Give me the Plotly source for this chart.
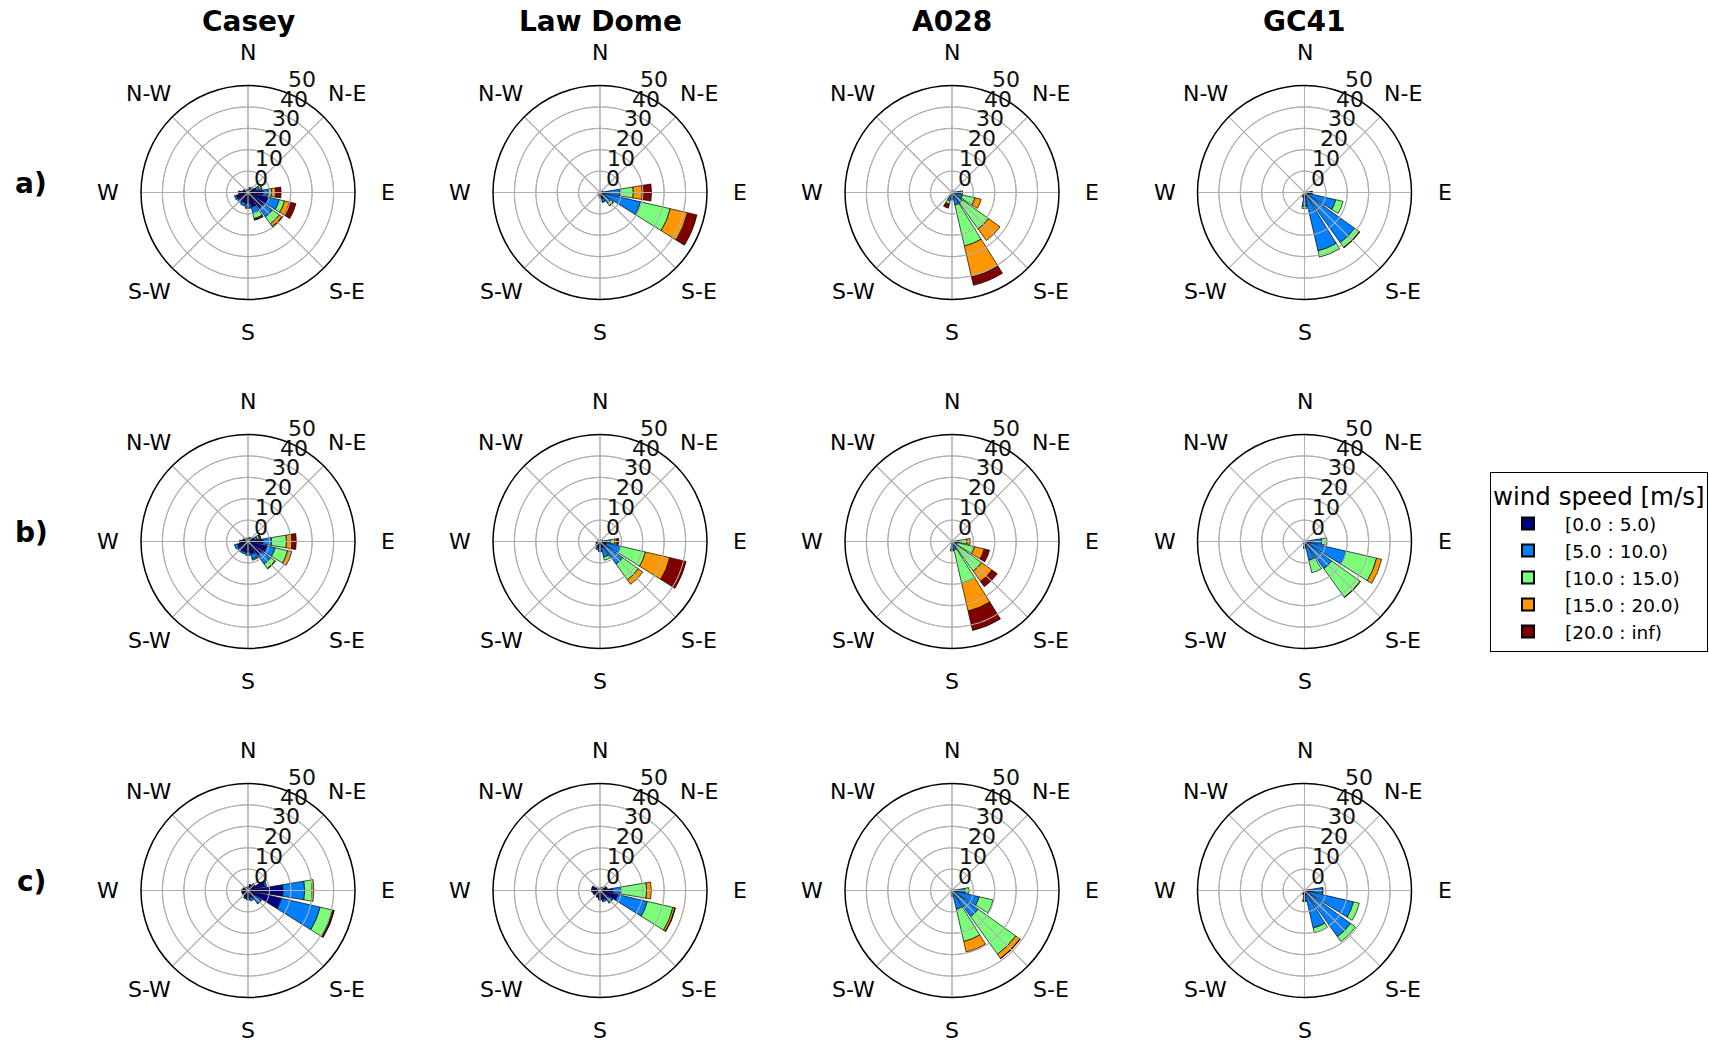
import math
import plotly.graph_objects as go

# ---------------- data ----------------
stations = ["Casey", "Law Dome", "A028", "GC41"]
periods = ["a)", "b)", "c)"]
directions = ["N", "NNE", "NE", "ENE", "E", "ESE", "SE", "SSE",
              "S", "SSW", "SW", "WSW", "W", "WNW", "NW", "NNW"]
direction_deg = [0, 22.5, 45, 67.5, 90, 112.5, 135, 157.5,
                 180, 202.5, 225, 247.5, 270, 292.5, 315, 337.5]
speed_bins = ["[0.0 : 5.0)", "[5.0 : 10.0)", "[10.0 : 15.0)", "[15.0 : 20.0)", "[20.0 : inf)"]
compass_labels = ["N", "N-E", "E", "S-E", "S", "S-W", "W", "N-W"]
compass_deg = [0, 45, 90, 135, 180, 225, 270, 315]
radial_labels = ["0", "10", "20", "30", "40", "50"]
radial_grid = [10, 20, 30, 40]

# frequency (%) per speed bin (rows) and direction (columns, N..NNW)
casey_a = [
    [1.5, 2, 2.5, 4, 7, 10, 9, 7, 5, 5, 5, 5.5, 4, 2.5, 2, 1.5],
    [0, 0.5, 0.5, 1.5, 2.5, 5, 5, 3, 2, 1.5, 1, 1, 0.5, 0, 0, 0],
    [0, 0, 0, 1, 1.5, 2.5, 4, 2.5, 0.5, 0, 0, 0, 0, 0, 0, 0],
    [0, 0, 0, 0.3, 2, 2.5, 1.5, 0.5, 0, 0, 0, 0, 0, 0, 0, 0],
    [0, 0, 0, 0, 2.5, 3, 0.5, 0.3, 0, 0, 0, 0, 0, 0, 0, 0],
]
lawdome_a = [
    [0.5, 0.8, 0.8, 1, 2, 2, 1.5, 3, 2, 1.5, 1, 1, 0.8, 0.5, 0.5, 0.5],
    [0, 0, 0, 0.3, 7.3, 17.4, 4.5, 1.5, 0.5, 0, 0, 0, 0, 0, 0, 0],
    [0, 0, 0, 0, 6.3, 14.3, 1.5, 0.3, 0, 0, 0, 0, 0, 0, 0, 0],
    [0, 0, 0, 0, 4.2, 8.3, 0.3, 0, 0, 0, 0, 0, 0, 0, 0, 0],
    [0, 0, 0, 0, 4.3, 4.5, 0, 0, 0, 0, 0, 0, 0, 0, 0, 0],
]
a028_a = [
    [0.3, 0.5, 0.5, 0.5, 1, 1, 1, 1, 1, 1, 0.5, 0.5, 0.3, 0.3, 0.3, 0.3],
    [0, 0.5, 0, 0.5, 3, 4, 5, 5, 2, 3, 0, 0, 0, 0, 0, 0],
    [0, 0, 0, 0, 1, 6, 15, 19.7, 0.5, 1.5, 0, 0, 0, 0, 0, 0],
    [0, 0, 0, 0, 0, 3, 6.6, 14.8, 0, 0.5, 0, 0, 0, 0, 0, 0],
    [0, 0, 0, 0, 0, 0, 0, 4, 0, 1.5, 0, 0, 0, 0, 0, 0],
]
gc41_a = [
    [0.3, 0.5, 0.5, 0.8, 1.5, 2, 2, 2, 2, 1, 0.5, 0.5, 0.5, 0.3, 0.3, 0.3],
    [0, 0, 0, 0, 2, 13, 26.8, 26, 4.5, 1, 0, 0, 0, 0, 0, 0],
    [0, 0, 0, 0, 0.2, 3.5, 2.7, 3, 1, 0.3, 0, 0, 0, 0, 0, 0],
    [0, 0, 0, 0, 0, 0, 0.3, 0, 0, 0, 0, 0, 0, 0, 0, 0],
    [0, 0, 0, 0, 0, 0, 0, 0, 0, 0, 0, 0, 0, 0, 0, 0],
]
casey_b = [
    [1.5, 2, 2.5, 3, 7, 9, 8, 6, 5, 5, 5, 5, 3.5, 2.5, 2, 1.5],
    [0, 0, 0, 1.5, 4, 4, 5, 2.5, 1.5, 1, 1, 1.5, 0.5, 0, 0, 0],
    [0, 0, 0, 1, 7, 6, 2.5, 0.5, 0, 0, 0, 0, 0, 0, 0, 0],
    [0, 0, 0, 0.5, 2.2, 2, 0.3, 0, 0, 0, 0, 0, 0, 0, 0, 0],
    [0, 0, 0, 0.2, 2.4, 0, 0, 0, 0, 0, 0, 0, 0, 0, 0, 0],
]
lawdome_b = [
    [0.5, 0.8, 0.8, 1, 2, 3, 4, 3, 2, 3, 2.5, 2, 1.5, 1, 0.5, 0.5],
    [0, 0, 0, 0.3, 3, 7, 9, 4.5, 2.5, 1, 0, 0, 0, 0, 0, 0],
    [0, 0, 0, 0, 2, 11.8, 9, 1.5, 0.3, 0, 0, 0, 0, 0, 0, 0],
    [0, 0, 0, 0, 1, 11.7, 2.6, 0, 0, 0, 0, 0, 0, 0, 0, 0],
    [0, 0, 0, 0, 0.8, 7.8, 0, 0, 0, 0, 0, 0, 0, 0, 0, 0],
]
a028_b = [
    [0.3, 0.3, 0.3, 0.5, 1, 1, 1, 1, 1, 0.5, 0.3, 0.3, 0.3, 0.3, 0.3, 0.3],
    [0, 0, 0, 0.3, 2, 1.5, 2, 3, 3, 0, 0, 0, 0, 0, 0, 0],
    [0, 0, 0, 0, 4, 8.3, 14, 16, 0.5, 0, 0, 0, 0, 0, 0, 0],
    [0, 0, 0, 0, 1.5, 4.7, 6, 13.4, 0, 0, 0, 0, 0, 0, 0, 0],
    [0, 0, 0, 0, 0, 2.5, 3, 9.3, 0, 0, 0, 0, 0, 0, 0, 0],
]
gc41_b = [
    [0.3, 0.5, 0.5, 0.8, 2, 2, 2, 2, 1.5, 1, 0.5, 0.5, 0.5, 0.3, 0.3, 0.3],
    [0, 0, 0, 0, 6, 18, 13.6, 7, 1.5, 0, 0, 0, 0, 0, 0, 0],
    [0, 0, 0, 0, 2.5, 14.6, 16.4, 6, 0.3, 0, 0, 0, 0, 0, 0, 0],
    [0, 0, 0, 0, 0, 2.4, 0.2, 0, 0, 0, 0, 0, 0, 0, 0, 0],
    [0, 0, 0, 0, 0, 0, 0, 0, 0, 0, 0, 0, 0, 0, 0, 0],
]
casey_c = [
    [2, 3, 4, 8, 16.4, 16, 4, 3.5, 3.5, 3.5, 3, 3, 3, 2.5, 2, 1.5],
    [0, 0, 0, 1, 10.1, 18.6, 3.5, 1.5, 1, 0.5, 0, 0, 0, 0, 0, 0],
    [0, 0, 0, 0, 3.5, 6, 0.3, 0, 0, 0, 0, 0, 0, 0, 0, 0],
    [0, 0, 0, 0, 0.8, 0.5, 0, 0, 0, 0, 0, 0, 0, 0, 0, 0],
    [0, 0, 0, 0, 0, 0.3, 0, 0, 0, 0, 0, 0, 0, 0, 0, 0],
]
lawdome_c = [
    [1, 1.5, 2, 3, 6, 8.5, 5, 4.5, 4, 3.5, 3, 3.5, 4, 4, 2, 1],
    [0, 0, 0, 0.5, 4, 14.2, 2, 1, 0.5, 0, 0, 0, 0, 0, 0, 0],
    [0, 0, 0, 0, 11.8, 12.3, 0.3, 0, 0, 0, 0, 0, 0, 0, 0, 0],
    [0, 0, 0, 0, 2.2, 1, 0, 0, 0, 0, 0, 0, 0, 0, 0, 0],
    [0, 0, 0, 0, 0, 0.2, 0, 0, 0, 0, 0, 0, 0, 0, 0, 0],
]
a028_c = [
    [0.3, 0.3, 0.5, 0.5, 1, 1, 1, 1, 1.5, 0.8, 0.5, 0.3, 0.3, 0.3, 0.3, 0.3],
    [0, 0, 0, 0.3, 5, 12, 14, 8, 1, 0, 0, 0, 0, 0, 0, 0],
    [0, 0, 0, 0, 2, 6.7, 21.6, 15.5, 0.2, 0, 0, 0, 0, 0, 0, 0],
    [0, 0, 0, 0, 0, 0, 2.4, 5, 0, 0, 0, 0, 0, 0, 0, 0],
    [0, 0, 0, 0, 0, 0, 0.2, 0, 0, 0, 0, 0, 0, 0, 0, 0],
]
gc41_c = [
    [0.3, 0.5, 0.5, 0.8, 2, 2, 2, 2, 2, 1.5, 0.5, 0.5, 0.3, 0.3, 0.3, 0.3],
    [0, 0, 0, 0, 6.5, 21.5, 24.5, 16, 3, 0.5, 0, 0, 0, 0, 0, 0],
    [0, 0, 0, 0, 0.2, 2.8, 2.8, 2.3, 0.2, 0, 0, 0, 0, 0, 0, 0],
    [0, 0, 0, 0, 0, 0, 0, 0, 0, 0, 0, 0, 0, 0, 0, 0],
    [0, 0, 0, 0, 0, 0, 0, 0, 0, 0, 0, 0, 0, 0, 0, 0],
]

grid_data = [
    [casey_a, lawdome_a, a028_a, gc41_a],
    [casey_b, lawdome_b, a028_b, gc41_b],
    [casey_c, lawdome_c, a028_c, gc41_c],
]

# ---------------- styling / layout ----------------
W, H = 1709, 1042
bin_colors = ["#000080", "#0080ff", "#7bff7b", "#ff9700", "#800000"]
GRID = "#b0b0b0"
FONT = "DejaVu Sans"
col_cx = [248, 600, 952, 1304.5]
row_cy = [192.5, 541.5, 890.5]
R = 107.0
RMAX = 50
bar_width = 19

# grid overlay geometry (grid drawn above the bars, as in the reference)
ring_theta = [t * 2.0 for t in range(181)]


def paper(px, py):
    return px / W, 1 - py / H


fig = go.Figure()
annotations = []
layout_polars = {}

k = 0
for i, period in enumerate(periods):
    for j, station in enumerate(stations):
        k += 1
        pname = "polar" if k == 1 else f"polar{k}"
        cx, cy = col_cx[j], row_cy[i]
        x0, y1 = paper(cx - R, cy - R)
        x1, y0 = paper(cx + R, cy + R)
        layout_polars[pname] = dict(
            domain=dict(x=[x0, x1], y=[y0, y1]),
            bgcolor="white",
            barmode="stack",
            angularaxis=dict(
                rotation=90, direction="clockwise",
                tickmode="array", tickvals=compass_deg,
                showticklabels=False, ticks="",
                showgrid=True, gridcolor=GRID, gridwidth=1.1,
                showline=True, linecolor="black", linewidth=1.5,
                layer="above traces",
            ),
            radialaxis=dict(
                range=[0, RMAX], tickmode="array", tickvals=radial_grid,
                showticklabels=False, ticks="", showline=False,
                showgrid=True, gridcolor=GRID, gridwidth=1.1,
            ),
        )
        values = grid_data[i][j]
        for b, label in enumerate(speed_bins):
            r = [v if v > 0 else None for v in values[b]]
            fig.add_trace(go.Barpolar(
                r=r, theta=direction_deg, width=bar_width,
                name=label, legendgroup=label, showlegend=(k == 1),
                marker=dict(color=bin_colors[b], line=dict(color="black", width=0.7)),
                subplot=pname,
            ))
        # grid overlay: rings and spokes on top of the bars
        rr, tt = [], []
        for g in radial_grid:
            rr += [g] * len(ring_theta) + [None]
            tt += ring_theta + [None]
        for d in compass_deg:
            rr += [0, RMAX, None]
            tt += [d, d, None]
        fig.add_trace(go.Scatterpolar(
            r=rr, theta=tt, mode="lines", line=dict(color=GRID, width=1.1),
            hoverinfo="skip", showlegend=False, subplot=pname, connectgaps=False,
        ))
        # compass labels
        for lab, deg in zip(compass_labels, compass_deg):
            a = math.radians(deg)
            px = cx + 140 * math.sin(a)
            py = cy - 140 * math.cos(a)
            xp, yp = paper(px, py)
            annotations.append(dict(x=xp, y=yp, xref="paper", yref="paper", text=lab,
                                    showarrow=False, xanchor="center", yanchor="middle",
                                    font=dict(family=FONT, size=22, color="black")))
        # radial labels (along 22.5 deg, offset as in reference)
        step = R / 5
        a = math.radians(22.5)
        for n, lab in enumerate(radial_labels):
            rlab = step * (n + 1)
            px = cx + rlab * math.sin(a) + 5
            py = cy - rlab * math.cos(a) + 5.5
            xp, yp = paper(px, py)
            annotations.append(dict(x=xp, y=yp, xref="paper", yref="paper", text=lab,
                                    showarrow=False, xanchor="center", yanchor="middle",
                                    font=dict(family=FONT, size=22, color="#111111")))

# column titles
for j, station in enumerate(stations):
    xp, yp = paper(col_cx[j], 21)
    annotations.append(dict(x=xp, y=yp, xref="paper", yref="paper", text=f"<b>{station}</b>",
                            showarrow=False, xanchor="center", yanchor="middle",
                            font=dict(family=FONT, size=28, color="black")))
# row labels
for i, period in enumerate(periods):
    xp, yp = paper(31, row_cy[i] - 9)
    annotations.append(dict(x=xp, y=yp, xref="paper", yref="paper", text=f"<b>{period}</b>",
                            showarrow=False, xanchor="center", yanchor="middle",
                            font=dict(family=FONT, size=28, color="black")))

lx, ly = paper(1490, 472)
fig.update_layout(
    width=W, height=H,
    margin=dict(l=0, r=0, t=0, b=0, autoexpand=False),
    paper_bgcolor="white",
    font=dict(family=FONT, color="black"),
    annotations=annotations,
    showlegend=True,
    legend=dict(
        x=lx, y=ly, xanchor="left", yanchor="top",
        title=dict(text="wind speed [m/s]", font=dict(family=FONT, size=24.5)),
        font=dict(family=FONT, size=18.5),
        bordercolor="black", borderwidth=1, bgcolor="white",
        traceorder="normal", itemsizing="constant", itemwidth=64,
    ),
    **layout_polars,
)

fig.write_html("out.html")
